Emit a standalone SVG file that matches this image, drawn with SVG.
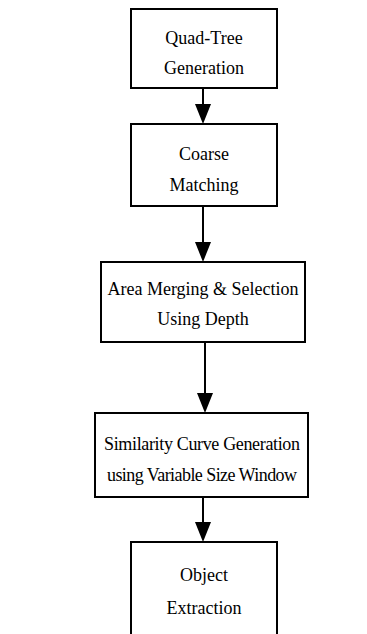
<svg xmlns="http://www.w3.org/2000/svg" width="367" height="634" viewBox="0 0 367 634">
<style>
.box{fill:#fff;stroke:#000;stroke-width:2}
.t{font-family:'Liberation Serif','DejaVu Serif',serif;font-size:18px;fill:#000;text-anchor:middle}
.c{stroke:#000;stroke-width:2;fill:none}
.h{fill:#000}
</style>
<rect width="367" height="634" fill="#fff"/>
<g id="n1"><rect class="box" x="131" y="9" width="146" height="79"/><text class="t" font-family="Liberation Serif, serif" x="204" y="44">Quad-Tree</text><text class="t" font-family="Liberation Serif, serif" x="204" y="74">Generation</text></g>
<g id="n2"><rect class="box" x="131" y="124" width="146" height="82"/><text class="t" font-family="Liberation Serif, serif" x="204" y="160">Coarse</text><text class="t" font-family="Liberation Serif, serif" x="204" y="191">Matching</text></g>
<g id="n3"><rect class="box" x="101" y="262" width="204" height="80"/><text class="t" font-family="Liberation Serif, serif" x="203" y="295">Area Merging &amp; Selection</text><text class="t" font-family="Liberation Serif, serif" x="203" y="325">Using Depth</text></g>
<g id="n4"><rect class="box" x="95" y="413" width="213" height="84"/><text class="t" font-family="Liberation Serif, serif" x="202" y="450" textLength="196">Similarity Curve Generation</text><text class="t" font-family="Liberation Serif, serif" x="202" y="481" textLength="190">using Variable Size Window</text></g>
<g id="n5"><rect class="box" x="131" y="542" width="146" height="100"/><text class="t" font-family="Liberation Serif, serif" x="204" y="581">Object</text><text class="t" font-family="Liberation Serif, serif" x="204" y="614">Extraction</text></g>
<g id="connectors">
<line class="c" x1="203" y1="88" x2="203" y2="106"/><polygon class="h" points="195,104 211,104 203,124"/>
<line class="c" x1="203" y1="206" x2="203" y2="244"/><polygon class="h" points="195,242 211,242 203,262"/>
<line class="c" x1="205" y1="342" x2="205" y2="395"/><polygon class="h" points="197,393 213,393 205,413"/>
<line class="c" x1="203" y1="497" x2="203" y2="524"/><polygon class="h" points="195,522 211,522 203,542"/>
</g>
</svg>
